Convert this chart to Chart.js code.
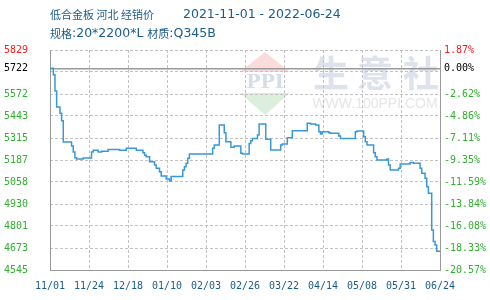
<!DOCTYPE html>
<html>
<head>
<meta charset="utf-8">
<script src="https://cdn.jsdelivr.net/npm/chart.js@4.4.0/dist/chart.umd.min.js"></script>
<style>
  body { margin: 0; background: #fff; }
  #wrap { position: relative; width: 490px; height: 300px; }
  canvas { position: absolute; left: 0; top: 0; }
</style>
</head>
<body>
<div id="wrap">
  <canvas id="mark" width="490" height="300"></canvas>
  <canvas id="chart" width="490" height="300"></canvas>
</div>
<script>
// x axis: days since 2021-11-01
const xLabels = ['11/01', '11/24', '12/18', '01/10', '02/03', '02/26', '03/22', '04/14', '05/08', '05/31', '06/24'];
const totalDays = 235;

// price changes (day offset, price)
const priceDays = [0, 2, 3, 4, 6, 7, 8, 13, 14, 15, 16, 20, 25, 26, 29, 31, 35, 42, 46, 52, 56, 57,
    58, 60, 63, 64, 66, 67, 70, 72, 73, 80, 81, 82, 83, 84, 98, 99, 102, 105, 106, 109, 111, 115, 116,
    120, 121, 122, 125, 126, 130, 133, 139, 140, 143, 146, 155, 157, 160, 162, 163, 164, 168, 169,
    174, 175, 184, 185, 189, 190, 191, 195, 196, 197, 203, 204, 205, 210, 211, 217, 219, 223, 224,
    226, 227, 228, 230, 231, 232, 233, 235];
const prices = [5722, 5685, 5590, 5496, 5460, 5416, 5292, 5269, 5234, 5200, 5193, 5199, 5234, 5244,
    5234, 5238, 5249, 5244, 5255, 5244, 5230, 5214, 5206, 5177, 5158, 5139, 5119, 5094, 5076, 5064,
    5090, 5129, 5148, 5168, 5197, 5222, 5255, 5275, 5391, 5346, 5294, 5262, 5269, 5226, 5222, 5284,
    5300, 5313, 5333, 5397, 5308, 5245, 5275, 5280, 5317, 5358, 5401, 5397, 5391, 5352, 5339, 5352,
    5346, 5343, 5327, 5313, 5352, 5356, 5323, 5294, 5275, 5230, 5206, 5187, 5193, 5158, 5129, 5139,
    5164, 5173, 5168, 5139, 5109, 5080, 5031, 4993, 4779, 4711, 4691, 4655, 4655];

const yMin = 4545, yMax = 5829, basePrice = 5722;
const leftLabels = ['4545', '4673', '4801', '4930', '5058', '5187', '5315', '5443', '5572', '5722', '5829'];
const rightLabels = ['-20.57%', '-18.33%', '-16.08%', '-13.84%', '-11.59%', '-9.35%', '-7.11%', '-4.86%', '-2.62%', '0.00%', '1.87%'];

// title pieces: [text, isCJK]
const titleLine1 = [['低合金板 河北 经销价', true]];
const titleDates = '2021-11-01 - 2022-06-24';
const titleLine2 = [['规格', true], [':20*2200*L ', false], ['材质', true], [':Q345B', false]];

const RED = '#ff1a1a', GREEN = '#2fb02f', BLUE = '#1a5c8e', GRID = '#c2c2c2';
const tickFont = { family: 'DejaVu Sans Mono', size: 10 };
const tickColor = c => c.tick.value === yMax ? RED : (c.tick.value === basePrice ? '#000' : GREEN);

// title + watermark on a plain canvas behind the chart
(() => {
    const ctx = document.getElementById('mark').getContext('2d');
    const cjkFont = '11px "Noto Sans CJK SC"', latinFont = '12.5px "DejaVu Sans"';
    const drawPieces = (pieces, x, y) => {
        pieces.forEach(([t, cjk]) => {
            ctx.font = cjk ? cjkFont : latinFont;
            ctx.fillText(t, x, y);
            x += ctx.measureText(t).width;
        });
    };
    ctx.fillStyle = BLUE;
    ctx.textBaseline = 'middle';
    ctx.textAlign = 'left';
    drawPieces(titleLine1, 50, 15);
    drawPieces([[titleDates, false]], 183, 15);
    drawPieces(titleLine2, 50, 34);

    ctx.fillStyle = '#fbdcdc';
    ctx.beginPath();
    ctx.moveTo(265, 52); ctx.lineTo(290, 72); ctx.lineTo(240, 72); ctx.closePath();
    ctx.fill();
    ctx.fillStyle = '#dcefdc';
    ctx.beginPath();
    ctx.moveTo(240, 93); ctx.lineTo(290, 93); ctx.lineTo(265, 115); ctx.closePath();
    ctx.fill();
    ctx.textAlign = 'center';
    ctx.fillStyle = '#d5ddeb';
    ctx.font = 'bold 19px "DejaVu Serif"';
    ctx.fillText('PPI', 265, 83);
    ctx.fillStyle = '#dde2ec';
    ctx.font = 'bold 36px "Noto Sans CJK SC"';
    ctx.fillText('生', 331, 73);
    ctx.fillText('意', 375, 73);
    ctx.fillText('社', 421, 73);
    ctx.fillStyle = '#e6e6e6';
    ctx.font = '14px "Liberation Sans"';
    ctx.fillText('WWW.100PPI.COM', 375, 104);
})();

new Chart(document.getElementById('chart'), {
    type: 'line',
    data: {
        datasets: [{
            data: priceDays.map((d, i) => ({ x: d, y: prices[i] })),
            stepped: true,
            borderColor: '#3a98d8',
            borderWidth: 1.5,
            pointRadius: 0,
            fill: false,
            yAxisID: 'y'
        }]
    },
    options: {
        responsive: false,
        animation: false,
        devicePixelRatio: 1,
        layout: { padding: { top: 50 } },
        plugins: { legend: { display: false }, tooltip: { enabled: false } },
        scales: {
            x: {
                type: 'linear', min: 0, max: totalDays,
                afterBuildTicks: s => { s.ticks = xLabels.map((_, i) => ({ value: i * totalDays / (xLabels.length - 1) })); },
                afterFit: s => { s.height = 30; },
                ticks: { autoSkip: false, maxRotation: 0, padding: 10, color: BLUE, font: tickFont, callback: (v, i) => xLabels[i] },
                grid: { color: GRID, drawTicks: false },
                border: { color: '#999', width: 1, dash: [3, 2] }
            },
            y: {
                position: 'left', min: yMin, max: yMax,
                afterBuildTicks: s => { s.ticks = leftLabels.map(l => ({ value: +l })); },
                afterFit: s => { s.width = 50; },
                ticks: { autoSkip: false, padding: 22, font: tickFont, color: tickColor, callback: (v, i) => leftLabels[i] },
                grid: { drawTicks: false, lineWidth: 1.5, color: c => c.tick && c.tick.value === basePrice ? '#999' : 'rgba(0,0,0,0)' },
                border: { color: '#999', width: 1 }
            },
            yg: {
                position: 'left', min: yMin, max: yMax,
                afterBuildTicks: s => { s.ticks = leftLabels.map((_, i) => ({ value: yMin + i * (yMax - yMin) / 10 })); },
                afterFit: s => { s.width = 0; },
                ticks: { display: false },
                grid: { color: GRID, drawTicks: false },
                border: { display: false, dash: [3, 2] }
            },
            y2: {
                position: 'right', min: yMin, max: yMax,
                afterBuildTicks: s => { s.ticks = leftLabels.map(l => ({ value: +l })); },
                afterFit: s => { s.width = 50; },
                ticks: { autoSkip: false, padding: 4, font: tickFont, color: tickColor, callback: (v, i) => rightLabels[i] },
                grid: { drawOnChartArea: false, drawTicks: false },
                border: { color: '#999', width: 1 }
            }
        }
    }
});
</script>
</body>
</html>
